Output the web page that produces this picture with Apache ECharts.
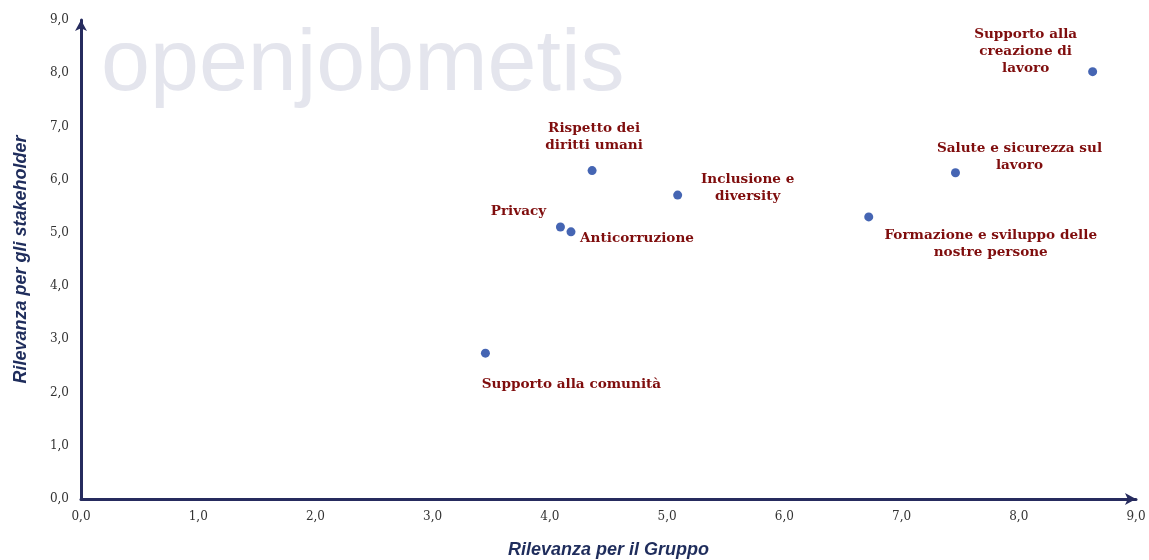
<!DOCTYPE html>
<html><head><meta charset="utf-8">
<script src="https://cdn.jsdelivr.net/npm/echarts@6/dist/echarts.min.js"></script>
<style>html,body{margin:0;padding:0;background:#fff}#c{width:1149px;height:560px}</style>
</head><body><div id="c"></div>
<script>
const names = ["Supporto alla comunità","Privacy","Anticorruzione","Rispetto dei\ndiritti umani","Inclusione e\ndiversity","Formazione e sviluppo delle\nnostre persone","Salute e sicurezza sul\nlavoro","Supporto alla\ncreazione di\nlavoro"];
const relGruppo = [3.45, 4.09, 4.18, 4.36, 5.09, 6.72, 7.46, 8.63];
const relStakeholder = [2.74, 5.11, 5.02, 6.17, 5.71, 5.30, 6.13, 8.03];
const xTitle = "Rilevanza per il Gruppo";
const yTitle = "Rilevanza per gli stakeholder";

// label layout (style only)
const labelOffsets = [[86,31],[-42,-16],[66,7],[2,-34],[70,-7],[122,27],[64,-16],[-67,-20]];

const fmt = v => v.toFixed(1).replace('.', ',');
const axisColor = '#262b5e';
const chart = echarts.init(document.getElementById('c'));
chart.setOption({
  animation:false,
  graphic:[{type:'text', left:101, top:22, z:-1, style:{text:'openjobmetis', font:'88px "Liberation Sans", Arial, sans-serif', fill:'#e4e5ed'}}],
  grid:{left:81, right:13, top:20, bottom:61, outerBoundsMode:'none', containLabel:false},
  xAxis:{type:'value', min:0, max:9, interval:1,
    name:xTitle, nameLocation:'middle', nameGap:42,
    nameTextStyle:{fontFamily:'"Liberation Sans", Arial, sans-serif', fontSize:18, fontWeight:'bold', fontStyle:'italic', color:'#1f2d5c'},
    axisLine:{show:true, lineStyle:{color:axisColor, width:3}, symbol:['none','arrow'], symbolSize:[9,11]},
    axisTick:{show:false}, splitLine:{show:false},
    axisLabel:{formatter:fmt, fontFamily:'"DejaVu Serif", serif', fontSize:12, color:'#333', margin:12}},
  yAxis:{type:'value', min:0, max:9, interval:1,
    name:yTitle, nameLocation:'middle', nameGap:51, nameRotate:90,
    nameTextStyle:{fontFamily:'"Liberation Sans", Arial, sans-serif', fontSize:18, fontWeight:'bold', fontStyle:'italic', color:'#1f2d5c'},
    axisLine:{show:true, lineStyle:{color:axisColor, width:3}, symbol:['none','arrow'], symbolSize:[9,11]},
    axisTick:{show:false}, splitLine:{show:false},
    axisLabel:{formatter:fmt, fontFamily:'"DejaVu Serif", serif', fontSize:12, color:'#333', margin:12}},
  series:[{type:'scatter', symbolSize:9, itemStyle:{color:'#4565b3', opacity:1},
    data: names.map((n,i)=>({name:n, value:[relGruppo[i], relStakeholder[i]],
      label:{show:true, formatter:n, position:'inside', offset:labelOffsets[i], align:'center', verticalAlign:'middle', opacity:1,
        fontFamily:'"DejaVu Serif", Georgia, serif', fontWeight:'bold', fontSize:13.6, lineHeight:17, color:'#7f0d0d'}}))
  }]
});
</script></body></html>
